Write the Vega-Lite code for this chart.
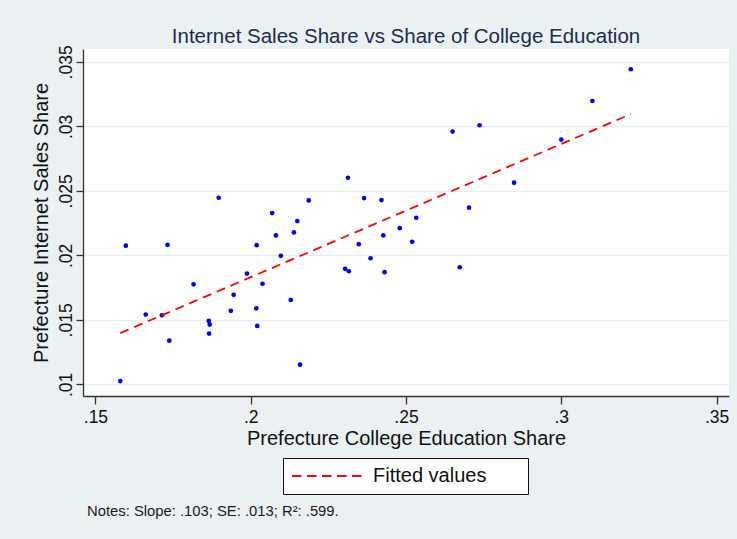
{
  "$schema": "https://vega.github.io/schema/vega-lite/v6.json",
  "background": "#EAF1F3",
  "autosize": {"type": "none"},
  "padding": {"left": 83, "top": 49, "right": 654, "bottom": 490},
  "config": {
    "font": "Liberation Sans",
    "axis": {"labelFont": "Liberation Sans", "titleFont": "Liberation Sans", "titleFontWeight": "normal"},
    "legend": {"labelFont": "Liberation Sans"}
  },
  "title": {
    "text": "Notes: Slope: .103; SE: .013; R²: .599.",
    "orient": "bottom",
    "anchor": "start",
    "frame": "bounds",
    "fontSize": 14.8,
    "fontWeight": "normal",
    "color": "#1a1a1a",
    "offset": 9,
    "dx": 56
  },
  "data": {
    "values": [
      {"edu": 0.1598, "share": 0.02075},
      {"edu": 0.1732, "share": 0.02082},
      {"edu": 0.1897, "share": 0.02447},
      {"edu": 0.2019, "share": 0.02079},
      {"edu": 0.1988, "share": 0.01859},
      {"edu": 0.1816, "share": 0.01776},
      {"edu": 0.1945, "share": 0.01694},
      {"edu": 0.1936, "share": 0.0157},
      {"edu": 0.2018, "share": 0.0159},
      {"edu": 0.1662, "share": 0.01541},
      {"edu": 0.1714, "share": 0.01536},
      {"edu": 0.1865, "share": 0.01492},
      {"edu": 0.1868, "share": 0.01464},
      {"edu": 0.2021, "share": 0.01453},
      {"edu": 0.1866, "share": 0.01394},
      {"edu": 0.1738, "share": 0.01339},
      {"edu": 0.158, "share": 0.01026},
      {"edu": 0.2069, "share": 0.02328},
      {"edu": 0.2187, "share": 0.02426},
      {"edu": 0.215, "share": 0.02266},
      {"edu": 0.2139, "share": 0.02178},
      {"edu": 0.2081, "share": 0.02155},
      {"edu": 0.2097, "share": 0.01997},
      {"edu": 0.2038, "share": 0.0178},
      {"edu": 0.2129, "share": 0.01655},
      {"edu": 0.2159, "share": 0.01153},
      {"edu": 0.2313, "share": 0.02602},
      {"edu": 0.2365, "share": 0.02444},
      {"edu": 0.2421, "share": 0.02429},
      {"edu": 0.2533, "share": 0.02292},
      {"edu": 0.248, "share": 0.02211},
      {"edu": 0.2427, "share": 0.02155},
      {"edu": 0.2348, "share": 0.02087},
      {"edu": 0.252, "share": 0.02106},
      {"edu": 0.2386, "share": 0.01978},
      {"edu": 0.2304, "share": 0.01896},
      {"edu": 0.2316, "share": 0.01877},
      {"edu": 0.2431, "share": 0.0187},
      {"edu": 0.2673, "share": 0.01908},
      {"edu": 0.265, "share": 0.0296},
      {"edu": 0.2737, "share": 0.03009},
      {"edu": 0.3224, "share": 0.03443},
      {"edu": 0.31, "share": 0.03197},
      {"edu": 0.3, "share": 0.02898},
      {"edu": 0.2848, "share": 0.02564},
      {"edu": 0.2703, "share": 0.0237}
    ]
  },
  "vconcat": [
    {
      "width": 646,
      "height": 347,
      "title": {
        "text": "Internet Sales Share vs Share of College Education",
        "anchor": "middle",
        "frame": "group",
        "fontSize": 20.5,
        "fontWeight": "normal",
        "color": "#1C2C4C",
        "offset": -3
      },
      "view": {"fill": "white", "stroke": null},
      "encoding": {
        "x": {
          "field": "edu",
          "type": "quantitative",
          "title": "Prefecture College Education Share",
          "scale": {"domain": [0.146, 0.354], "nice": false, "zero": false},
          "axis": {
            "values": [0.15, 0.2, 0.25, 0.3, 0.35],
            "labelExpr": "substring(format(datum.value, '~r'), 1)",
            "grid": false,
            "tickSize": 8,
            "tickWidth": 1.3,
            "tickColor": "#333333",
            "domainColor": "#333333",
            "domainWidth": 1.3,
            "labelFontSize": 17.5,
            "labelColor": "#111111",
            "labelPadding": 4,
            "labelFlush": false,
            "labelOverlap": false,
            "titleFontSize": 20,
            "titleColor": "#111111",
            "titlePadding": 3
          }
        },
        "y": {
          "field": "share",
          "type": "quantitative",
          "title": "Prefecture Internet Sales Share",
          "scale": {"domain": [0.0091, 0.036], "nice": false, "zero": false},
          "axis": {
            "values": [0.01, 0.015, 0.02, 0.025, 0.03, 0.035],
            "labelExpr": "substring(format(datum.value, '~r'), 1)",
            "labelAngle": -90,
            "labelAlign": "center",
            "labelBaseline": "alphabetic",
            "grid": true,
            "gridColor": "#E6EEF1",
            "gridWidth": 1.6,
            "tickSize": 7,
            "tickWidth": 1.3,
            "tickColor": "#333333",
            "domainColor": "#333333",
            "domainWidth": 1.3,
            "labelFontSize": 17.5,
            "labelColor": "#111111",
            "labelPadding": 5,
            "labelFlush": false,
            "labelOverlap": false,
            "titleFontSize": 20,
            "titleColor": "#111111",
            "titlePadding": 6
          }
        }
      },
      "layer": [
        {
          "mark": {"type": "point", "filled": true, "color": "#0000F5", "size": 22, "opacity": 1}
        },
        {
          "transform": [{"regression": "share", "on": "edu"}],
          "mark": {"type": "line", "strokeDash": [9, 6], "strokeWidth": 1.8},
          "encoding": {
            "color": {
              "datum": "Fitted values",
              "scale": {"range": ["#FF0000"]},
              "legend": {
                "title": null,
                "orient": "none",
                "legendX": 200,
                "legendY": 409,
                "fillColor": "white",
                "strokeColor": "#111111",
                "padding": 8,
                "symbolType": "stroke",
                "symbolSize": 4900,
                "symbolStrokeWidth": 1.8,
                "symbolDash": [9.5, 5.5],
                "clipHeight": 20,
                "labelFontSize": 20,
                "labelColor": "#111111",
                "labelOffset": 10,
                "labelExpr": "datum.label + '\u00a0\u00a0\u00a0\u00a0\u00a0\u00a0\u200b'"
              }
            }
          }
        }
      ]
    }
  ]
}
